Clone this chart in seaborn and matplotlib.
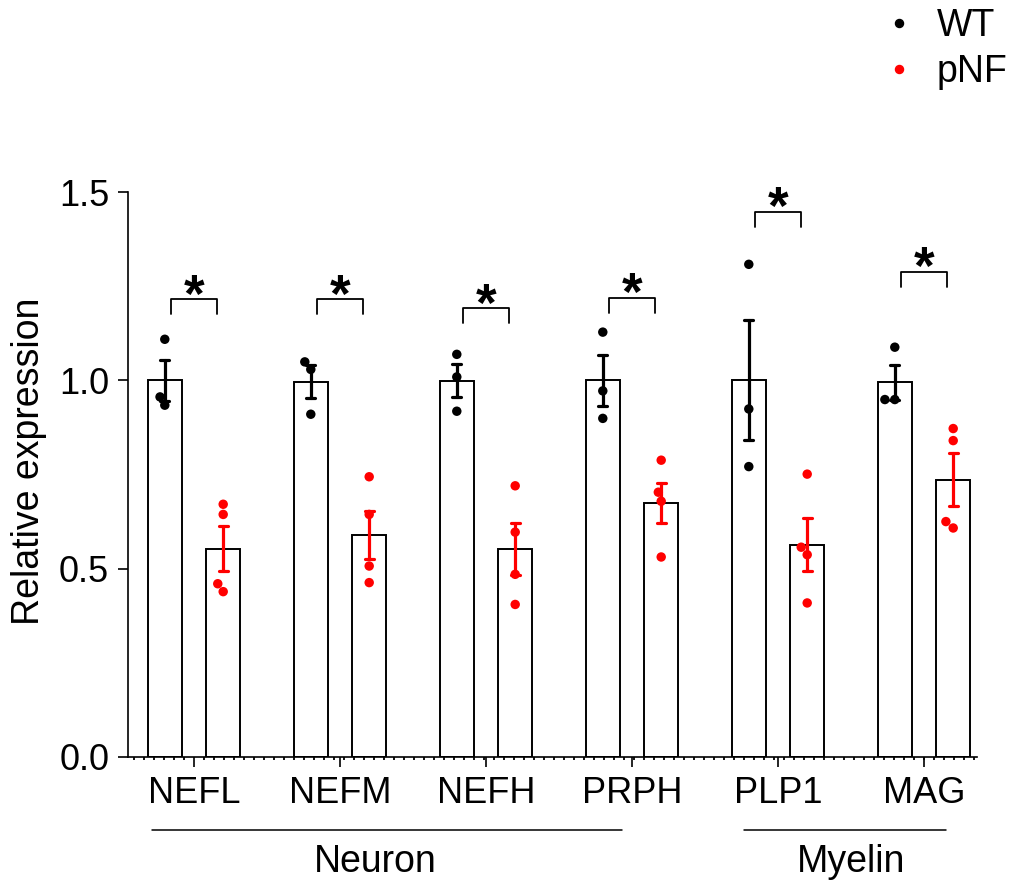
import numpy as np
import pandas as pd
import matplotlib
matplotlib.use("Agg")
import matplotlib.pyplot as plt
import matplotlib.transforms as mtransforms
from matplotlib.lines import Line2D
from matplotlib.ticker import MultipleLocator, FormatStrFormatter
import seaborn as sns

# ---------------- data ----------------
genes = ["NEFL", "NEFM", "NEFH", "PRPH", "PLP1", "MAG"]
groups = ["WT", "pNF"]

wt_values = [
    [1.109, 0.956, 0.934],   # NEFL
    [1.049, 1.029, 0.910],   # NEFM
    [1.069, 1.009, 0.918],   # NEFH
    [1.128, 0.972, 0.899],   # PRPH
    [1.308, 0.924, 0.771],   # PLP1
    [1.088, 0.949, 0.949],   # MAG
]
pnf_values = [
    [0.671, 0.644, 0.460, 0.439],  # NEFL
    [0.744, 0.644, 0.507, 0.463],  # NEFM
    [0.720, 0.597, 0.485, 0.405],  # NEFH
    [0.788, 0.703, 0.679, 0.531],  # PRPH
    [0.751, 0.557, 0.537, 0.409],  # PLP1
    [0.872, 0.840, 0.625, 0.608],  # MAG
]

# significance bracket heights (one per gene)
bracket_heights = [1.216, 1.216, 1.191, 1.219, 1.448, 1.288]
sig_labels = ["*", "*", "*", "*", "*", "*"]

# category groupings below the axis
category_names = ["Neuron", "Myelin"]
category_spans = [(-0.288, 2.93), (3.77, 5.15)]
category_label_x = [1.24, 4.5]

yticks = [0.0, 0.5, 1.0, 1.5]

# ---------------- table ----------------
rows = []
for g, vals in zip(genes, wt_values):
    for v in vals:
        rows.append((g, "WT", v))
for g, vals in zip(genes, pnf_values):
    for v in vals:
        rows.append((g, "pNF", v))
df = pd.DataFrame(rows, columns=["gene", "group", "value"])

# ---------------- style ----------------
sns.set_theme(style="ticks")
plt.rcParams["font.family"] = ["Liberation Sans", "DejaVu Sans"]
plt.rcParams["text.color"] = "black"
plt.rcParams["axes.labelcolor"] = "black"
plt.rcParams["xtick.color"] = "black"
plt.rcParams["ytick.color"] = "black"

W, H = 1012, 890
fig = plt.figure(figsize=(W / 100, H / 100), dpi=100)
ax = fig.add_axes([128 / W, 1 - 757 / H, 849 / W, 565 / H])

sns.barplot(
    data=df, x="gene", y="value", hue="group",
    order=genes, hue_order=groups,
    palette={"WT": "white", "pNF": "white"},
    edgecolor="black", linewidth=1.4,
    errorbar="se", capsize=0.123, width=0.8, gap=0.42,
    err_kws={"linewidth": 2.3}, legend=False, ax=ax,
)

# colour error bars by group
for ln in ax.lines:
    xd = np.asarray(ln.get_xdata(), dtype=float)
    xm = np.nanmean(xd)
    ln.set_color("red" if xm - np.round(xm) > 0 else "black")
    ln.set_zorder(3)

sns.swarmplot(
    data=df, x="gene", y="value", hue="group",
    order=genes, hue_order=groups,
    palette={"WT": "black", "pNF": "red"},
    dodge=True, size=6.8, linewidth=0, legend=False, ax=ax, zorder=4,
)

ax.set_xlim(-0.452, 5.363)
ax.set_ylim(0, 1.5)
ax.set_yticks(yticks)
ax.yaxis.set_major_formatter(FormatStrFormatter("%.1f"))
ax.set_xlabel("")
ax.set_ylabel("Relative expression", fontsize=27, color="black", va="center")
ax.yaxis.set_label_coords(-0.117, 0.524)

for s in ["top", "right"]:
    ax.spines[s].set_visible(False)
for s in ["left", "bottom"]:
    ax.spines[s].set_color("black")
    ax.spines[s].set_linewidth(1.2)
ax.spines["left"].set_bounds(0, 1.5)

ax.tick_params(axis="both", which="major", length=7.5, width=1.2,
               color="black", labelcolor="black", labelsize=26, pad=6)
ax.xaxis.set_minor_locator(MultipleLocator(0.0685))
ax.tick_params(axis="x", which="minor", length=2.2, width=1.3, color="black")

# significance brackets
for i, (yb, lab) in enumerate(zip(bracket_heights, sig_labels)):
    ax.plot([i - 0.16, i - 0.16, i + 0.16, i + 0.16],
            [yb - 0.04, yb, yb, yb - 0.04],
            color="black", lw=1.3, clip_on=False, zorder=5)
    ax.annotate(lab, xy=(i, yb), xytext=(0, -9), textcoords="offset points",
                ha="center", va="baseline", fontsize=38, fontweight="bold",
                color="black", annotation_clip=False)

# category lines and labels
trans = mtransforms.blended_transform_factory(ax.transData, ax.transAxes)
for name, (x0, x1), xl in zip(category_names, category_spans, category_label_x):
    ax.plot([x0, x1], [-0.129, -0.129], transform=trans, color="black",
            lw=1.1, clip_on=False)
    ax.text(xl, -0.186, name, transform=trans, ha="center", va="center",
            fontsize=27, color="black")

handles = [
    Line2D([], [], marker="o", ls="", color="black", markersize=5.8),
    Line2D([], [], marker="o", ls="", color="red", markersize=5.8),
]
leg = fig.legend(handles, groups, loc="upper right", bbox_to_anchor=(1.003, 0.999),
                 frameon=False, fontsize=27, handlelength=0.8, handletextpad=0.6,
                 labelspacing=0.25, borderaxespad=0, borderpad=0.2)
for t in leg.get_texts():
    t.set_color("black")

fig.savefig("out.png", dpi=100)
